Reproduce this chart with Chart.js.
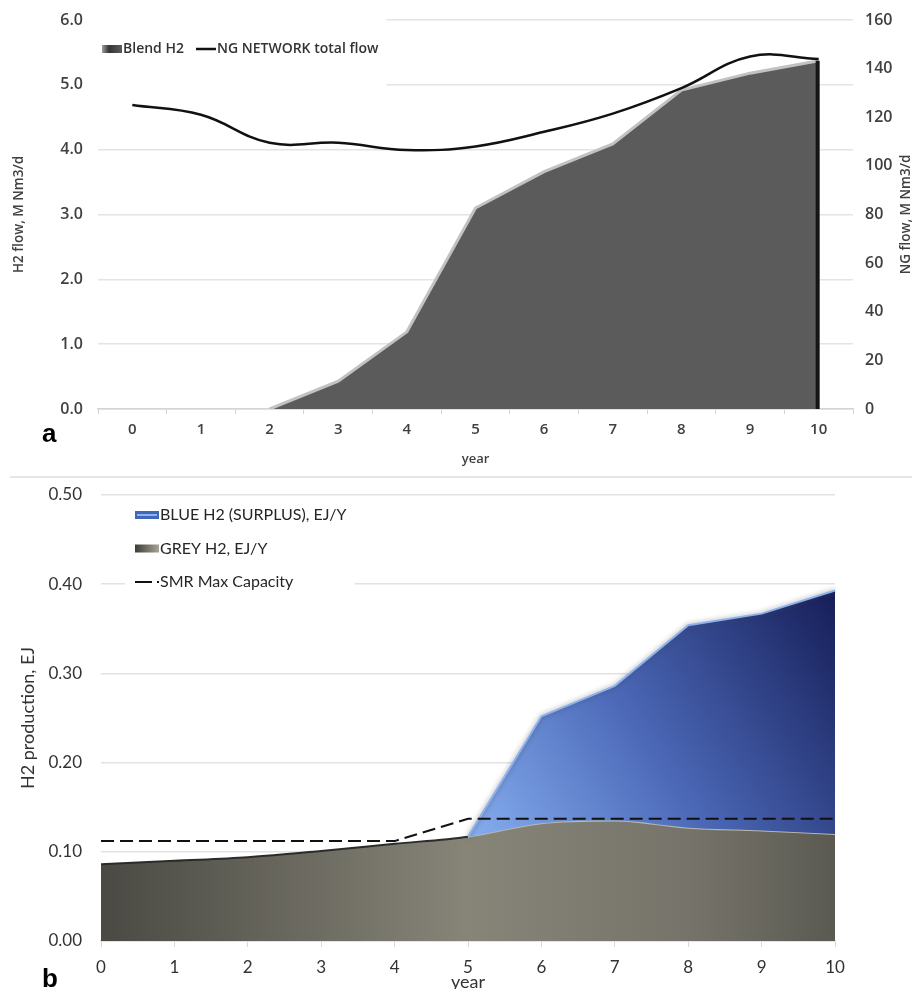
<!DOCTYPE html>
<html>
<head>
<meta charset="utf-8">
<script src="https://cdn.jsdelivr.net/npm/chart.js@4.4.1/dist/chart.umd.min.js"></script>
<style>
  html, body { margin: 0; padding: 0; background: #fff; overflow: hidden; }
  #page { position: relative; width: 912px; height: 989px; overflow: hidden; }
  #wrapA { position: absolute; left: 0; top: 0; width: 912px; height: 472px; }
  #wrapB { position: absolute; left: 0; top: 480px; width: 912px; height: 519px; }
  .panel { position: absolute; font: bold 26px "Liberation Sans", Arial, sans-serif; line-height: 26px; color: #000; }
  #rule { position: absolute; left: 10px; top: 476px; width: 902px; height: 2px; background: #e6e6e6; }
</style>
</head>
<body>
<div id="page">
  <div id="wrapA"><canvas id="chartA"></canvas></div>
  <div class="panel" style="left:42px; top:420px;">a</div>
  <div id="rule"></div>
  <div id="wrapB"><canvas id="chartB"></canvas></div>
  <div class="panel" style="left:42px; top:965px;">b</div>
</div>
<script>
// ---- shared category axis ----
const years = ['0', '1', '2', '3', '4', '5', '6', '7', '8', '9', '10'];

// ---- panel a: H2 blended into the gas network ----
const blendH2 = [null, null, 0, 0.43, 1.19, 3.10, 3.66, 4.09, 4.92, 5.18, 5.37];      // M Nm3/d
const ngNetworkFlow = [125, 121, 109.5, 109.5, 106.5, 108, 114, 121.5, 132, 145, 144]; // M Nm3/d
const h2FlowAxis = { min: 0, max: 6, step: 1 };
const ngFlowAxis = { min: 0, max: 160, step: 20 };

// ---- panel b: hydrogen production ----
const greyH2 = [0.086, 0.090, 0.094, 0.101, 0.109, 0.117, 0.132, 0.135, 0.127, 0.124, 0.120];
const blueH2Surplus = [null, null, null, null, null, 0, 0.120, 0.151, 0.227, 0.243, 0.273];
const smrMaxCapacity = [0.112, 0.112, 0.112, 0.112, 0.112, 0.137, 0.137, 0.137, 0.137, 0.137, 0.137];
const productionAxis = { min: 0, max: 0.5, step: 0.1 };

// the surplus band sits on top of the grey production
const blueH2Top = blueH2Surplus.map((v, i) => v == null ? null : +(greyH2[i] + v).toFixed(3));

const FONT_A = '"Open Sans", "DejaVu Sans", sans-serif';
const FONT_B = 'Lato, "Open Sans", sans-serif';

// ---- legend key samples ----
const swatches = {
  blend(c, x, y, w, h) {
    const g = c.createLinearGradient(x, 0, x + w, 0);
    g.addColorStop(0, '#a0a0a0'); g.addColorStop(0.35, '#343434'); g.addColorStop(1, '#5c5c5c');
    c.fillStyle = g; c.fillRect(x, y - h / 2, w, h);
  },
  line(c, x, y, w) {
    c.strokeStyle = '#111'; c.lineWidth = 2.5;
    c.beginPath(); c.moveTo(x, y); c.lineTo(x + w, y); c.stroke();
  },
  blue(c, x, y, w, h) {
    c.fillStyle = '#3f66b8'; c.fillRect(x, y - h / 2, w, h);
    c.fillStyle = '#8fb1ec'; c.fillRect(x + 2, y - 1, w - 4, 2);
  },
  grey(c, x, y, w, h) {
    const g = c.createLinearGradient(x, 0, x + w, 0);
    g.addColorStop(0, '#3c3b36'); g.addColorStop(0.6, '#7d7b70'); g.addColorStop(1, '#a8a69a');
    c.fillStyle = g; c.fillRect(x, y - h / 2, w, h);
  },
  dashed(c, x, y, w) {
    c.strokeStyle = '#111'; c.lineWidth = 2; c.setLineDash([17, 5]);
    c.beginPath(); c.moveTo(x, y); c.lineTo(x + w, y); c.stroke();
  }
};

// Legend drawn inside the plot area on a white panel that masks the gridlines.
function insetLegend(cfg) {
  function layout(chart) {
    const { ctx, chartArea: a } = chart;
    ctx.save();
    ctx.font = cfg.font;
    let x = a.left + cfg.left, y = a.top + cfg.top;
    const rows = cfg.items.map(it => {
      const text = chart.data.datasets[it.dataset].label;
      const w = ctx.measureText(text).width;
      const row = { text, sx: x, sy: y, tx: x + cfg.swatchW + cfg.textGap, swatch: it.swatch };
      row.end = row.tx + w;
      if (cfg.horizontal) x = row.end + cfg.itemGap; else y += cfg.rowStep;
      return row;
    });
    ctx.restore();
    const bx = a.left + cfg.boxLeft;
    const right = Math.max(...rows.map(r => r.end)) + cfg.boxPad;
    return { rows, box: { x: bx, y: a.top + cfg.boxTop, w: right - bx, h: cfg.boxBottom - cfg.boxTop } };
  }
  return {
    id: 'insetLegend',
    beforeDatasetsDraw(chart) {
      const { box } = layout(chart);
      const c = chart.ctx;
      c.save(); c.fillStyle = '#fff'; c.fillRect(box.x, box.y, box.w, box.h); c.restore();
    },
    afterDatasetsDraw(chart) {
      const { rows } = layout(chart);
      const c = chart.ctx;
      rows.forEach(r => {
        c.save();
        swatches[r.swatch](c, r.sx, r.sy, cfg.swatchW, cfg.swatchH);
        c.restore();
        c.save();
        c.font = cfg.font; c.fillStyle = cfg.color;
        c.textAlign = 'left'; c.textBaseline = 'middle';
        c.fillText(r.text, r.tx, r.sy);
        c.restore();
      });
    }
  };
}

// Right-hand axis title, read bottom-to-top like the left one.
const rightAxisTitle = {
  id: 'rightAxisTitle',
  afterDraw(chart) {
    const s = chart.scales.y1, c = chart.ctx;
    c.save();
    c.translate(s.right - 6, (s.top + s.bottom) / 2);
    c.rotate(-Math.PI / 2);
    c.font = '600 13.5px ' + FONT_A;
    c.fillStyle = '#404040';
    c.textAlign = 'center'; c.textBaseline = 'middle';
    c.fillText('NG flow, M Nm3/d', 0, 0);
    c.restore();
  }
};

// Dark bevel along the closing edge of the blend area.
const areaEdge = {
  id: 'areaEdge',
  afterDatasetDraw(chart, args) {
    if (args.index !== 0) return;
    const pts = args.meta.data;
    const p = pts[pts.length - 1];
    const base = chart.scales.y.getPixelForValue(0);
    const c = chart.ctx;
    c.save();
    c.strokeStyle = '#151515'; c.lineWidth = 4;
    c.beginPath(); c.moveTo(p.x - 1, p.y); c.lineTo(p.x - 1, base); c.stroke();
    c.restore();
  }
};

// Soft grey halo around the surplus outline.
const surplusHalo = {
  id: 'surplusHalo',
  beforeDatasetDraw(chart, args) {
    if (args.index !== 1) return;
    const c = chart.ctx;
    c.save();
    c.shadowColor = 'rgba(70,70,70,0.6)'; c.shadowBlur = 5;
  },
  afterDatasetDraw(chart, args) {
    if (args.index !== 1) return;
    chart.ctx.restore();
  }
};

function greyFill(context) {
  const { chart } = context;
  const a = chart.chartArea;
  if (!a) return '#6d6c62';
  const g = chart.ctx.createLinearGradient(a.left, 0, a.right, 0);
  g.addColorStop(0, '#4a4943');
  g.addColorStop(0.5, '#878578');
  g.addColorStop(0.8, '#76746a');
  g.addColorStop(1, '#5b5a52');
  return g;
}

function blueFill(context) {
  const { chart } = context;
  if (!chart.chartArea) return '#4a66b4';
  const xs = chart.scales.x, ys = chart.scales.y;
  const first = blueH2Surplus.findIndex(v => v != null);
  const last = blueH2Surplus.length - 1;
  const top = Math.max(...blueH2Top.filter(v => v != null));
  const g = chart.ctx.createLinearGradient(
    xs.getPixelForValue(first), ys.getPixelForValue(greyH2[first]),
    xs.getPixelForValue(last), ys.getPixelForValue(top));
  g.addColorStop(0, '#86aef0');
  g.addColorStop(0.45, '#4c69b8');
  g.addColorStop(1, '#161e58');
  return g;
}

// ---------------- chart a ----------------
new Chart(document.getElementById('chartA'), {
  type: 'line',
  data: {
    labels: years,
    datasets: [
      {
        label: 'Blend H2',
        data: blendH2,
        yAxisID: 'y',
        fill: 'origin',
        backgroundColor: '#5b5b5b',
        borderColor: '#c2c2c2',
        borderWidth: 3,
        tension: 0,
        pointRadius: 0,
        order: 1
      },
      {
        label: 'NG NETWORK total flow',
        data: ngNetworkFlow,
        yAxisID: 'y1',
        fill: false,
        borderColor: '#111',
        borderWidth: 2.5,
        tension: 0.4,
        pointRadius: 0,
        order: 0
      }
    ]
  },
  options: {
    responsive: true,
    maintainAspectRatio: false,
    animation: false,
    devicePixelRatio: 1,
    layout: { padding: { top: 20, left: 0, right: 0, bottom: 0 } },
    plugins: { legend: { display: false }, tooltip: { enabled: false } },
    scales: {
      x: {
        type: 'category',
        offset: true,
        grid: { offset: true, drawOnChartArea: false, drawTicks: true, tickLength: 5, color: '#d4d4d4' },
        border: { display: true, color: '#d4d4d4', width: 1.5 },
        ticks: { padding: 7, autoSkip: false, maxRotation: 0, color: '#404040', font: { family: FONT_A, size: 15, weight: '600' } },
        title: { display: true, text: 'year', color: '#404040', font: { family: FONT_A, size: 13, weight: '600' }, padding: { top: 0, bottom: 5 } },
        afterFit(s) { s.height = 63; }
      },
      y: {
        position: 'left',
        min: h2FlowAxis.min, max: h2FlowAxis.max,
        grid: { color: '#e4e4e4', lineWidth: 1.5, drawTicks: true, tickLength: 15, tickColor: 'rgba(0,0,0,0)' },
        border: { display: false },
        ticks: { stepSize: h2FlowAxis.step, padding: 0, color: '#404040', font: { family: FONT_A, size: 16, weight: '600' }, callback: v => Number(v).toFixed(1) },
        title: { display: true, text: 'H2 flow, M Nm3/d', color: '#404040', font: { family: FONT_A, size: 13.5, weight: '600' }, padding: { top: 11, bottom: 0 } },
        afterFit(s) { s.width = 98; }
      },
      y1: {
        position: 'right',
        min: ngFlowAxis.min, max: ngFlowAxis.max,
        grid: { display: true, drawOnChartArea: false, drawTicks: true, tickLength: 12, tickColor: 'rgba(0,0,0,0)' },
        border: { display: false },
        ticks: { stepSize: ngFlowAxis.step, padding: 0, color: '#404040', font: { family: FONT_A, size: 16, weight: '600' } },
        afterFit(s) { s.width = 59; }
      }
    }
  },
  plugins: [
    insetLegend({
      items: [{ dataset: 0, swatch: 'blend' }, { dataset: 1, swatch: 'line' }],
      horizontal: true,
      left: 4, top: 29,
      swatchW: 20, swatchH: 8, textGap: 1, itemGap: 12,
      font: '600 14px ' + FONT_A, color: '#333',
      boxLeft: 0, boxTop: -3, boxBottom: 68, boxPad: 8
    }),
    areaEdge,
    rightAxisTitle
  ]
});

// ---------------- chart b ----------------
new Chart(document.getElementById('chartB'), {
  type: 'line',
  data: {
    labels: years,
    datasets: [
      {
        label: 'GREY H2, EJ/Y',
        data: greyH2,
        fill: 'origin',
        backgroundColor: greyFill,
        borderColor: '#2b2b27',
        borderWidth: 2,
        segment: { borderColor: ctx => ctx.p0DataIndex >= 5 ? '#b9b8b0' : '#2b2b27' },
        cubicInterpolationMode: 'monotone',
        pointRadius: 0,
        order: 2
      },
      {
        label: 'BLUE H2 (SURPLUS), EJ/Y',
        data: blueH2Top,
        fill: '-1',
        backgroundColor: blueFill,
        borderColor: '#8db2f0',
        borderWidth: 2,
        tension: 0,
        pointRadius: 0,
        order: 1
      },
      {
        label: 'SMR Max Capacity',
        data: smrMaxCapacity,
        fill: false,
        borderColor: '#111',
        borderWidth: 2,
        borderDash: [13, 6],
        tension: 0,
        pointRadius: 0,
        order: 0
      }
    ]
  },
  options: {
    responsive: true,
    maintainAspectRatio: false,
    animation: false,
    devicePixelRatio: 1,
    layout: { padding: { top: 15, left: 0, right: 77, bottom: 0 } },
    plugins: { legend: { display: false }, tooltip: { enabled: false } },
    scales: {
      x: {
        type: 'category',
        offset: false,
        grid: { drawOnChartArea: false, drawTicks: true, tickLength: 6, color: '#d8d8d8' },
        border: { display: true, color: '#d8d8d8', width: 1.5 },
        ticks: { padding: 10, autoSkip: false, maxRotation: 0, color: '#333', font: { family: FONT_B, size: 17 } },
        title: { display: true, text: 'year', color: '#333', font: { family: FONT_B, size: 18 }, padding: { top: 0, bottom: 6 } },
        afterFit(s) { s.height = 58; }
      },
      y: {
        min: productionAxis.min, max: productionAxis.max,
        grid: { color: '#e2e2e2', lineWidth: 1.5, drawTicks: true, tickLength: 19, tickColor: 'rgba(0,0,0,0)' },
        border: { display: false },
        ticks: { stepSize: productionAxis.step, padding: 0, color: '#333', font: { family: FONT_B, size: 17 }, callback: v => Number(v).toFixed(2) },
        title: { display: true, text: 'H2 production, EJ', color: '#333', font: { family: FONT_B, size: 18 }, padding: { top: 17, bottom: 0 } },
        afterFit(s) { s.width = 101; }
      }
    }
  },
  plugins: [
    insetLegend({
      items: [{ dataset: 1, swatch: 'blue' }, { dataset: 0, swatch: 'grey' }, { dataset: 2, swatch: 'dashed' }],
      horizontal: false,
      left: 34, top: 20, rowStep: 33.5,
      swatchW: 24, swatchH: 8, textGap: 1,
      font: '16px ' + FONT_B, color: '#262626',
      boxLeft: 24, boxTop: 5, boxBottom: 103, boxPad: 8
    }),
    surplusHalo
  ]
});
</script>
</body>
</html>
